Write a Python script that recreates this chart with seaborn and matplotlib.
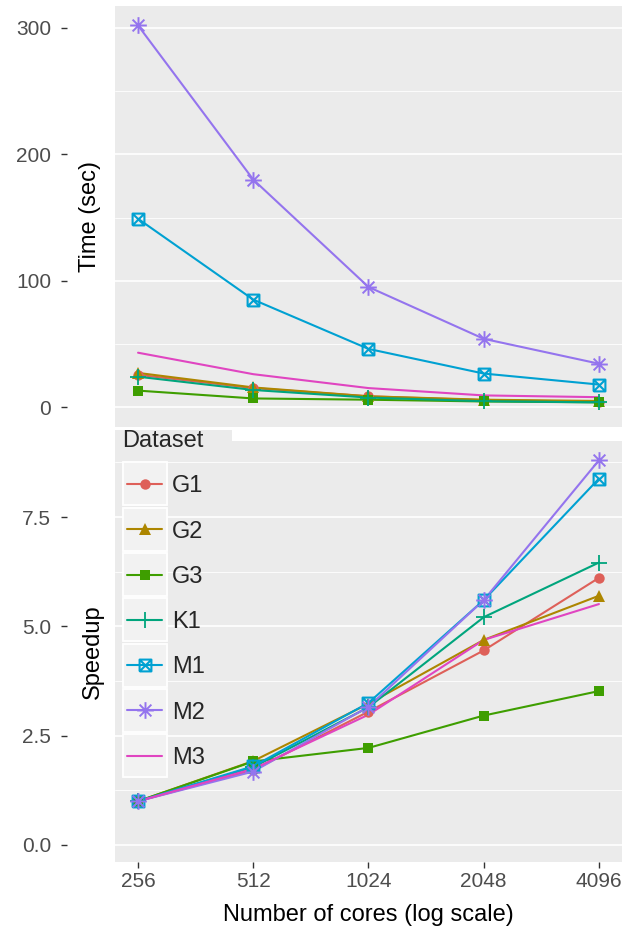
import numpy as np
import pandas as pd
import seaborn as sns
import matplotlib
matplotlib.use("Agg")
import matplotlib.pyplot as plt
from matplotlib.path import Path
from matplotlib.lines import Line2D
from matplotlib.patches import Rectangle
from matplotlib.ticker import FixedLocator

# ---------------- data ----------------
cores = [256, 512, 1024, 2048, 4096]
datasets = ["G1", "G2", "G3", "K1", "M1", "M2", "M3"]

time_G1 = [25.5, 15.0, 8.5, 5.5, 4.2]
time_G2 = [27.0, 15.5, 8.5, 5.8, 4.8]
time_G3 = [13.0, 6.8, 5.8, 4.4, 3.7]
time_K1 = [24.0, 13.5, 7.5, 4.6, 3.7]
time_M1 = [149.0, 85.0, 46.0, 26.5, 17.8]
time_M2 = [302.0, 180.0, 95.0, 54.0, 34.3]
time_M3 = [43.0, 26.0, 15.0, 9.2, 7.8]

speed_G1 = [1.0, 1.71, 3.05, 4.45, 6.11]
speed_G2 = [1.0, 1.92, 3.23, 4.69, 5.70]
speed_G3 = [1.0, 1.91, 2.22, 2.96, 3.52]
speed_K1 = [1.0, 1.78, 3.15, 5.21, 6.46]
speed_M1 = [1.0, 1.80, 3.25, 5.60, 8.38]
speed_M2 = [1.0, 1.68, 3.16, 5.60, 8.80]
speed_M3 = [1.0, 1.74, 2.98, 4.69, 5.51]

times = [time_G1, time_G2, time_G3, time_K1, time_M1, time_M2, time_M3]
speeds = [speed_G1, speed_G2, speed_G3, speed_K1, speed_M1, speed_M2, speed_M3]

time_ticks = [0, 100, 200, 300]
speed_ticks = [0.0, 2.5, 5.0, 7.5]

colors = ["#DE6059", "#AD8600", "#3E9E00", "#00A57D", "#00A1D2", "#9474EE", "#E045C1"]

rows = []
for d, t, s in zip(datasets, times, speeds):
    for c, tv, sv in zip(cores, t, s):
        rows.append({"Dataset": d, "cores": c, "time": tv, "speedup": sv})
df = pd.DataFrame(rows)

# ---------------- custom markers ----------------
M = Path.MOVETO
L = Path.LINETO
a = 0.7071
asterisk = Path([(-1, 0), (1, 0), (0, -1), (0, 1), (-a, -a), (a, a), (-a, a), (a, -a)],
                [M, L, M, L, M, L, M, L])
sqcross = Path([(-1, -1), (1, -1), (1, 1), (-1, 1), (-1, -1),
                (-1, -1), (1, 1), (-1, 1), (1, -1)],
               [M, L, L, L, L, M, L, M, L])

marker_spec = {
    "G1": dict(marker="o", ms=7.5, mfc="c", mew=0),
    "G2": dict(marker="^", ms=9.0, mfc="c", mew=0),
    "G3": dict(marker="s", ms=7.2, mfc="c", mew=0),
    "K1": dict(marker="+", ms=12, mfc="none", mew=1.3),
    "M1": dict(marker=sqcross, ms=8.5, mfc="none", mew=1.5),
    "M2": dict(marker=asterisk, ms=12, mfc="none", mew=1.4),
    "M3": dict(marker="", ms=0, mfc="none", mew=0),
}

# ---------------- style ----------------
sns.set_theme(style="darkgrid", rc={
    "axes.facecolor": "#EBEBEB",
    "grid.color": "white",
    "figure.facecolor": "white",
})
plt.rcParams["font.family"] = ["Liberation Sans", "DejaVu Sans"]

W, H = 639, 931
fig = plt.figure(figsize=(W / 100, H / 100), dpi=100)

def px_axes(x0, y0, x1, y1):
    return fig.add_axes([x0 / W, 1 - y1 / H, (x1 - x0) / W, (y1 - y0) / H])

ax1 = px_axes(115, 6, 622, 427)
ax2 = px_axes(115, 441, 622, 862)

palette = dict(zip(datasets, colors))

for ax, col in [(ax1, "time"), (ax2, "speedup")]:
    sns.lineplot(data=df, x="cores", y=col, hue="Dataset", palette=palette,
                 linewidth=1.5, legend=False, ax=ax, zorder=3)
    for d in datasets:
        sp = marker_spec[d]
        if sp["marker"] == "":
            continue
        sub = df[df["Dataset"] == d]
        mfc = palette[d] if sp["mfc"] == "c" else "none"
        ax.plot(sub["cores"], sub[col], linestyle="none", marker=sp["marker"],
                markersize=sp["ms"], markerfacecolor=mfc,
                markeredgecolor=palette[d], markeredgewidth=sp["mew"], zorder=4)

OUT = 48 * 72 / 100  # 48 px outward in points
for ax in (ax1, ax2):
    ax.set_xscale("log", base=2)
    ax.set_xlim(2 ** 7.8, 2 ** 12.2)
    ax.xaxis.set_major_locator(FixedLocator(cores))
    ax.xaxis.set_minor_locator(FixedLocator([]))
    ax.grid(False, axis="x", which="both")
    ax.grid(True, axis="y", which="major", color="white", linewidth=1.2)
    ax.grid(True, axis="y", which="minor", color="white", linewidth=0.6)
    for sp in ax.spines.values():
        sp.set_visible(False)
    ax.spines["left"].set_position(("outward", OUT))
    ax.tick_params(axis="y", which="major", left=True, length=4.5, width=1.0,
                   color="#333333", labelsize=15, labelcolor="#4D4D4D", pad=7)
    ax.tick_params(axis="y", which="minor", left=False, length=0)
    ax.set_xlabel("")

# top
ax1.set_ylim(-15.8, 317.4)
ax1.yaxis.set_major_locator(FixedLocator(time_ticks))
ax1.yaxis.set_minor_locator(FixedLocator([50, 150, 250]))
ax1.set_yticklabels([str(t) for t in time_ticks])
ax1.tick_params(axis="x", bottom=False, labelbottom=False)
ax1.set_ylabel("Time (sec)", fontsize=17, color="black")
ax1.yaxis.set_label_coords(-0.028, 0.5)

# bottom
ax2.set_ylim(-0.39, 9.24)
ax2.yaxis.set_major_locator(FixedLocator(speed_ticks))
ax2.yaxis.set_minor_locator(FixedLocator([1.25, 3.75, 6.25, 8.75]))
ax2.set_yticklabels([f"{t:.1f}" for t in speed_ticks])
ax2.set_xticklabels([str(c) for c in cores])
ax2.tick_params(axis="x", which="major", bottom=True, length=4.5, width=1.0,
                color="#333333", labelsize=15, labelcolor="#4D4D4D", pad=3)
ax2.set_ylabel("Speedup", fontsize=17, color="black")
ax2.yaxis.set_label_coords(-0.022, 0.5)
ax2.set_xlabel("Number of cores (log scale)", fontsize=17, color="black", labelpad=9)

# legend
handles = []
for d in datasets:
    sp = marker_spec[d]
    mfc = palette[d] if sp["mfc"] == "c" else "none"
    handles.append(Line2D([0], [0], color=palette[d], linewidth=1.5,
                          marker=sp["marker"] if sp["marker"] else None,
                          markersize=sp["ms"], markerfacecolor=mfc,
                          markeredgecolor=palette[d], markeredgewidth=sp["mew"]))
leg = ax2.legend(handles, datasets, title="Dataset", loc="upper left",
                 bbox_to_anchor=(127 / W, 1 - 430 / H), bbox_transform=fig.transFigure,
                 frameon=False, fontsize=17, title_fontsize=17,
                 handlelength=1.5, handletextpad=0.4, labelspacing=0.985,
                 borderpad=0.0, borderaxespad=0.0, alignment="left")
leg.set_zorder(7)
leg.get_title().set_position((-5, 0))

fig.canvas.draw()
renderer = fig.canvas.get_renderer()
# gray strip behind legend title (between panels)
strip = Rectangle((115 / W, 1 - 441 / H), (232 - 115) / W, (441 - 430) / H,
                  transform=fig.transFigure, facecolor="#EBEBEB",
                  edgecolor="none", zorder=5, clip_on=False)
ax2.add_artist(strip)
for ln in leg.get_lines():
    bb = ln.get_window_extent(renderer)
    cx = (bb.x0 + bb.x1) / 2
    cy = (bb.y0 + bb.y1) / 2
    w, h = 44, 43
    r = Rectangle(((cx - w / 2) / W, (cy - h / 2) / H), w / W, h / H,
                  transform=fig.transFigure, facecolor="#F2F2F2",
                  edgecolor="white", linewidth=1.3, zorder=6, clip_on=False)
    ax2.add_artist(r)

fig.savefig("out.png", dpi=100)
